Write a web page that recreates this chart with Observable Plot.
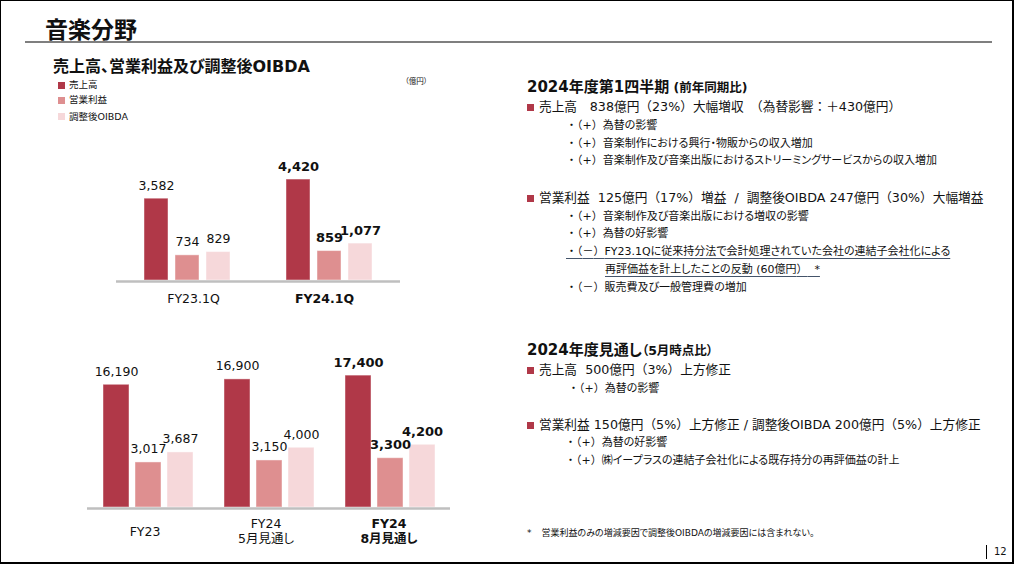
<!DOCTYPE html>
<html><head><meta charset="utf-8">
<script src="https://cdn.jsdelivr.net/npm/d3@7"></script>
<script src="https://cdn.jsdelivr.net/npm/@observablehq/plot@0.6"></script>
<style>
html,body{margin:0;padding:0;background:#fff;}
#slide{position:relative;width:1014px;height:564px;overflow:hidden;font-family:"DejaVu Sans","Noto Sans CJK JP",sans-serif;font-feature-settings:"palt";color:#111;}
#slide svg{font-feature-settings:"palt";overflow:visible;}
#border{position:absolute;left:0;top:0;width:1014px;height:564px;box-sizing:border-box;border:1px solid #000;border-right-width:2px;border-bottom-width:2px;pointer-events:none;}
.t{position:absolute;white-space:nowrap;line-height:20px;height:20px;}
.sq{position:absolute;width:7px;height:7px;background:#B03848;}
.lg{position:absolute;width:7px;height:7px;}
.h{font-weight:bold;font-size:15px;}
.hs{font-weight:bold;font-size:12.5px;}
.m{font-size:12.7px;}
.s{font-size:11px;}
.fw{font-feature-settings:normal;}
.u{text-decoration:underline;text-decoration-color:#44546a;text-underline-offset:3px;text-decoration-thickness:1px;}
.chart{position:absolute;left:0;}
</style>
</head>
<body>
<div id="slide">
  <div class="t" style="left:45px;top:15px;line-height:30px;height:30px;font-size:23px;font-weight:bold;">音楽分野</div>
  <div style="position:absolute;left:25px;top:41px;width:967px;height:1.6px;background:#7f7f7f;"></div>

  <div class="t" style="left:53px;top:56.7px;font-size:16px;font-weight:bold;">売上高、営業利益及び調整後OIBDA</div>
  <div class="lg" style="left:58px;top:81.5px;background:#B03848;"></div>
  <div class="t" style="left:69px;top:75px;font-size:9.5px;">売上高</div>
  <div class="lg" style="left:58px;top:96.5px;background:#DE8F90;"></div>
  <div class="t" style="left:69px;top:90px;font-size:9.5px;">営業利益</div>
  <div class="lg" style="left:58px;top:113px;background:#F6D8DA;"></div>
  <div class="t" style="left:69px;top:106.5px;font-size:9.5px;">調整後OIBDA</div>
  <div class="t" style="left:405px;top:72px;font-size:7.5px;">（億円）</div>

  <div id="chartTop" class="chart" style="top:130px;"></div>
  <div id="chartBottom" class="chart" style="top:330px;"></div>

  <div class="t" style="left:527px;top:77px;"><span class="h">2024年度第1四半期</span><span class="hs"> (前年同期比)</span></div>
  <div class="sq" style="left:527px;top:103.5px;"></div>
  <div class="t m p" style="left:539px;top:97px;">売上高　838億円（23%）大幅増収　（為替影響：＋430億円）</div>
  <div class="t s p" style="left:566px;top:116px;">・（+）為替の影響</div>
  <div class="t s p" style="left:566px;top:133.5px;">・（+）音楽制作における興行・物販からの収入増加</div>
  <div class="t s p" style="left:566px;top:151px;">・（+）音楽制作及び音楽出版におけるストリーミングサービスからの収入増加</div>

  <div class="sq" style="left:527px;top:194.8px;"></div>
  <div class="t m p" style="left:539px;top:188.3px;">営業利益&nbsp; 125億円（17%）増益&nbsp; /&nbsp; 調整後OIBDA 247億円（30%）大幅増益</div>
  <div class="t s p" style="left:566px;top:206.7px;">・（+）音楽制作及び音楽出版における増収の影響</div>
  <div class="t s p" style="left:566px;top:224.3px;">・（+）為替の好影響</div>
  <div class="t s u p" style="left:566px;top:241.7px;">・（－）FY23.1Qに従来持分法で会計処理されていた会社の連結子会社化による</div>
  <div class="t s u p" style="left:605px;top:260px;">再評価益を計上したことの反動 (60億円）&nbsp; *</div>
  <div class="t s p" style="left:566px;top:278.3px;">・（－）販売費及び一般管理費の増加</div>

  <div class="t" style="left:527px;top:340px;"><span class="h">2024年度見通し</span><span class="hs">（5月時点比）</span></div>
  <div class="sq" style="left:527px;top:366.5px;"></div>
  <div class="t m p" style="left:539px;top:360px;">売上高&nbsp; 500億円（3%）上方修正</div>
  <div class="t s p" style="left:568px;top:379.3px;">・（+）為替の影響</div>

  <div class="sq" style="left:527px;top:421.5px;"></div>
  <div class="t m p" style="left:539px;top:415px;">営業利益 150億円（5%）上方修正 / 調整後OIBDA 200億円（5%）上方修正</div>
  <div class="t s p" style="left:565px;top:433.3px;">・（+）為替の好影響</div>
  <div class="t s p" style="left:565px;top:450.7px;">・（+）㈱イープラスの連結子会社化による既存持分の再評価益の計上</div>

  <div class="t" style="left:527px;top:523px;font-size:9px;">*</div>
  <div class="t" style="left:541.5px;top:523px;font-size:9px;">営業利益のみの増減要因で調整後OIBDAの増減要因には含まれない。</div>
  <div style="position:absolute;left:986px;top:545px;width:1px;height:14px;background:#000;"></div>
  <div class="t" style="left:994px;top:541.7px;font-size:10px;">12</div>

  <div id="border"></div>
</div>
<script>
// full-width punctuation keeps its full width (as in the original slide font); kana stay proportional
document.querySelectorAll(".p").forEach(el => {
  el.innerHTML = el.innerHTML
    .replace(/([（）：＋－　])/g, '<span class="fw">$1</span>')
    .replace(/^・/, '<span class="fw">・</span>');
});

const seriesNames = ["売上高", "営業利益", "調整後OIBDA"];
const seriesColors = ["#B03848", "#DE8F90", "#F6D8DA"];

const quarterCategories = ["FY23.1Q", "FY24.1Q"];
const quarterRevenue = [3582, 4420];
const quarterOperatingIncome = [734, 859];
const quarterOIBDA = [829, 1077];

const annualCategories = ["FY23", "FY24\n5月見通し", "FY24\n8月見通し"];
const annualRevenue = [16190, 16900, 17400];
const annualOperatingIncome = [3017, 3150, 3300];
const annualOIBDA = [3687, 4000, 4200];

const fontFamily = '"DejaVu Sans","Noto Sans CJK JP",sans-serif';
const fmt = d3.format(",");

function toRows(cats, rev, op, oibda) {
  const last = cats.length - 1;
  return cats.flatMap((c, i) => [
    {category: c, series: seriesNames[0], value: rev[i], highlight: i === last},
    {category: c, series: seriesNames[1], value: op[i], highlight: i === last},
    {category: c, series: seriesNames[2], value: oibda[i], highlight: i === last}
  ]);
}

function chart(o) {
  const rows = toRows(o.cats, o.rev, o.op, o.oibda);
  // profit series are drawn on a secondary (larger) scale, as in the original slide
  const yv = d => d.series === seriesNames[0] ? d.value : d.value * o.secondaryFactor;
  const labelOpts = {fx: "category", x: "series", y: yv, text: d => fmt(d.value), lineAnchor: "bottom", dy: -9, fontSize: 12.5, fill: "#111"};
  const catOpts = {fx: d => d, text: d => d, frameAnchor: "bottom", lineAnchor: "middle", fontSize: 12.5, lineHeight: 1.17, fill: "#111", dy: o.catDy};
  return Plot.plot({
    width: o.width, height: o.height,
    marginLeft: o.marginLeft, marginRight: o.marginRight, marginTop: o.marginTop, marginBottom: o.marginBottom,
    style: {fontFamily, background: "transparent", overflow: "visible"},
    fx: {domain: o.cats, padding: 0, axis: null},
    x: {domain: seriesNames, paddingInner: o.paddingInner, paddingOuter: o.paddingOuter, axis: null},
    y: {domain: [0, o.yMax], axis: null},
    color: {domain: seriesNames, range: seriesColors},
    marks: [
      Plot.barY(rows, {fx: "category", x: "series", y: yv, fill: "series", stroke: "#fff", strokeOpacity: 0.45, strokeWidth: 1}),
      Plot.ruleY([0], {stroke: "#bfbfbf", strokeWidth: 2.5, dy: 1}),
      Plot.text(rows.filter(d => !d.highlight), labelOpts),
      Plot.text(rows.filter(d => d.highlight), {...labelOpts, fontSize: 13, fontWeight: "bold"}),
      Plot.text(o.cats.slice(0, -1), {...catOpts, dx: o.catDx[0]}),
      Plot.text(o.cats.slice(-1), {...catOpts, dx: o.catDx[1], fontWeight: "bold"})
    ]
  });
}

document.getElementById("chartTop").append(chart({
  cats: quarterCategories, rev: quarterRevenue, op: quarterOperatingIncome, oibda: quarterOIBDA,
  width: 420, height: 190, marginLeft: 115, marginRight: 20, marginTop: 35.8, marginBottom: 40,
  yMax: 5000, secondaryFactor: 1.5, paddingInner: 0.211, paddingOuter: 0.853, catDy: 18, catDx: [6, -5]
}));

document.getElementById("chartBottom").append(chart({
  cats: annualCategories, rev: annualRevenue, op: annualOperatingIncome, oibda: annualOIBDA,
  width: 470, height: 230, marginLeft: 86, marginRight: 18.3, marginTop: 25.4, marginBottom: 53,
  yMax: 20000, secondaryFactor: 1.97, paddingInner: 0.195, paddingOuter: 0.4845, catDy: 23.5, catDx: [-3, -1]
}));
</script>
</body></html>
